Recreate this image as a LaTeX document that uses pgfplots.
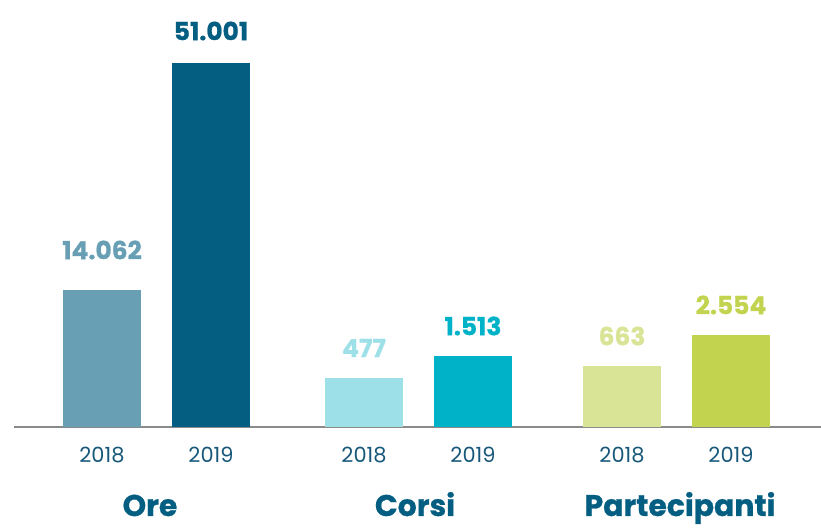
\documentclass[border=0pt]{standalone}
\usepackage{fontspec}
\setmainfont{Poppins}
\newfontfamily\heavy[FakeBold=0.8]{Poppins}
\usepackage{pgfplots}
\pgfplotsset{compat=1.18}
\definecolor{oreA}{HTML}{689FB5}
\definecolor{oreB}{HTML}{035E82}
\definecolor{corA}{HTML}{9DE0E8}
\definecolor{corB}{HTML}{00B2C8}
\definecolor{parA}{HTML}{D9E496}
\definecolor{parB}{HTML}{C2D34F}
\definecolor{axisgray}{HTML}{8A8A8A}
\definecolor{yearcol}{HTML}{17587A}
\definecolor{grpcol}{HTML}{035E82}
\begin{document}
\begin{tikzpicture}
\begin{axis}[
  x=1bp, y=1bp,
  xmin=14, xmax=821, ymin=0, ymax=427,
  hide y axis,
  axis x line*=bottom,
  axis line style={-, draw=axisgray, line width=1.5bp},
  xtick={102,211,364,473,622,731},
  xticklabels={2018,2019,2018,2019,2018,2019},
  major tick length=0pt,
  x tick label style={anchor=center, yshift=-28bp, font=\fontsize{21}{23}\selectfont, text=yearcol},
  clip=false,
  point meta=explicit symbolic,
  nodes near coords,
  every node near coord/.style={anchor=center, font=\heavy\bfseries\fontsize{25}{27}\selectfont},
]
\addplot[ybar, bar width=78bp, bar shift=0pt, fill=oreA, draw=none,
  every node near coord/.append style={text=oreA, yshift=40bp}] coordinates {(102,137) [14.062]};
\addplot[ybar, bar width=78bp, bar shift=0pt, fill=oreB, draw=none,
  every node near coord/.append style={text=oreB, yshift=32bp}] coordinates {(211,364) [51.001]};
\addplot[ybar, bar width=78bp, bar shift=0pt, fill=corA, draw=none,
  every node near coord/.append style={text=corA, yshift=30bp}] coordinates {(364,49) [477]};
\addplot[ybar, bar width=78bp, bar shift=0pt, fill=corB, draw=none,
  every node near coord/.append style={text=corB, yshift=30bp}] coordinates {(473,71) [1.513]};
\addplot[ybar, bar width=78bp, bar shift=0pt, fill=parA, draw=none,
  every node near coord/.append style={text=parA, yshift=30bp}] coordinates {(622,61) [663]};
\addplot[ybar, bar width=78bp, bar shift=0pt, fill=parB, draw=none,
  every node near coord/.append style={text=parB, yshift=30bp}] coordinates {(731,92) [2.554]};
\node[anchor=base, inner sep=0pt, font=\heavy\bfseries\fontsize{30}{32}\selectfont, text=grpcol] at (axis cs:150,-89) {Ore};
\node[anchor=base, inner sep=0pt, font=\heavy\bfseries\fontsize{30}{32}\selectfont, text=grpcol] at (axis cs:415,-89) {Corsi};
\node[anchor=base, inner sep=0pt, font=\heavy\bfseries\fontsize{30}{32}\selectfont, text=grpcol] at (axis cs:680,-89) {Partecipanti};
\coordinate (bl) at (axis cs:0,-101);
\coordinate (tr) at (axis cs:821,427);
\end{axis}
\pgfresetboundingbox
\path (bl) rectangle (tr);
\end{tikzpicture}
\end{document}
